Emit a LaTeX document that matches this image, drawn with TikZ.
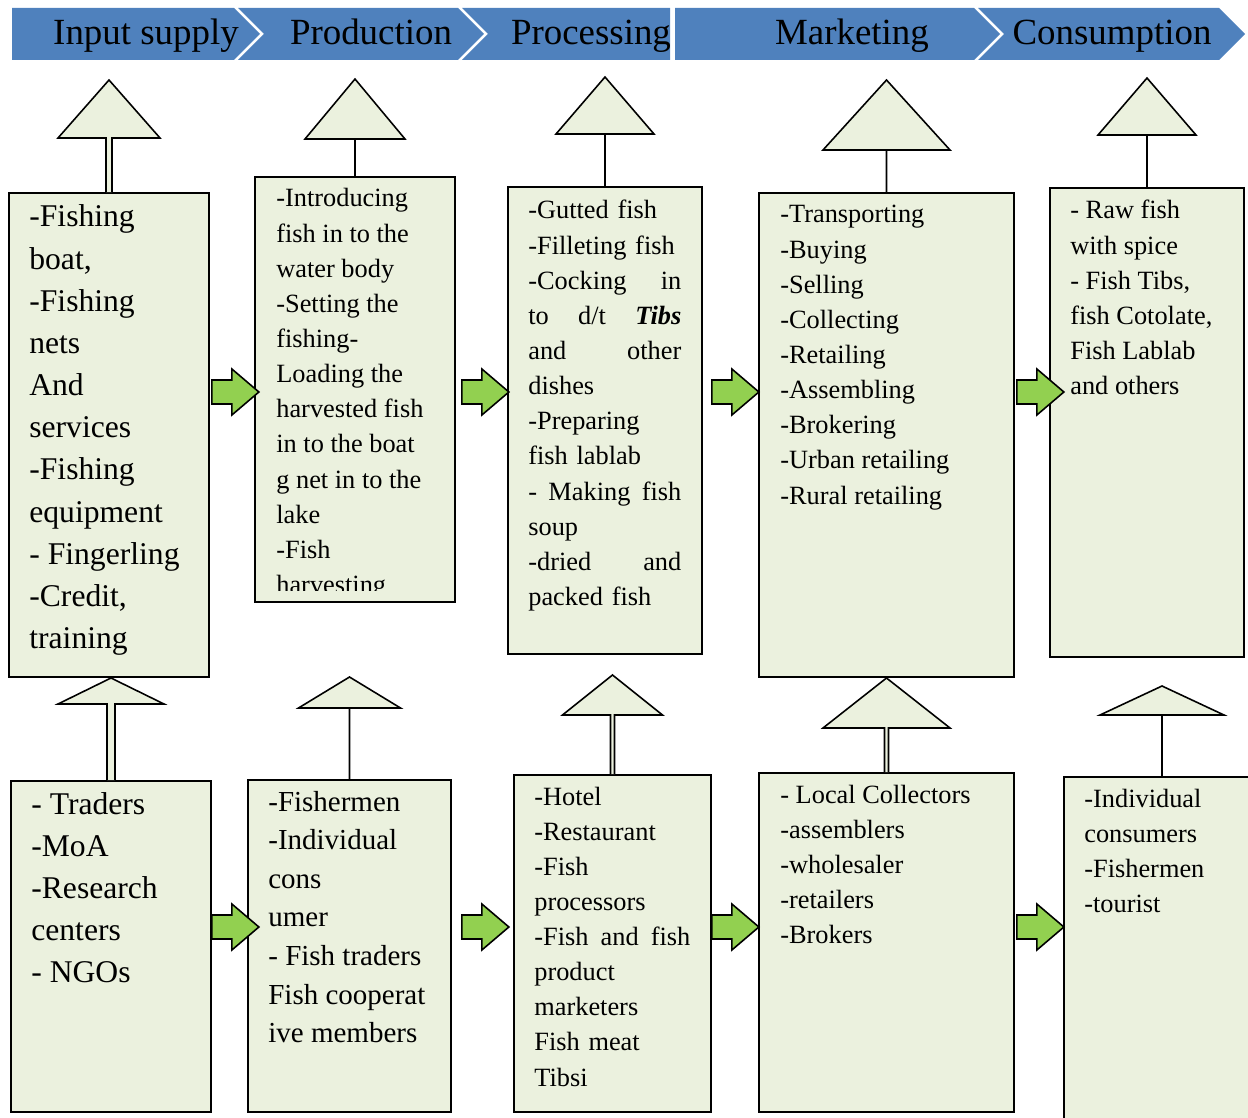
\documentclass[tikz,border=0pt]{standalone}
\usepackage{fontspec}
\setmainfont{Liberation Serif}
\usepackage{xcolor}
\usetikzlibrary{fit,calc}

\definecolor{bannerBlue}{HTML}{4F81BD}
\definecolor{boxFill}{HTML}{EBF1DE}
\definecolor{flowGreen}{HTML}{92D050}

\tikzset{
  box/.style = {draw, line width = 1pt, fill = boxFill, inner sep = 0pt},
  tri/.style = {draw, line width = 0.9pt, fill = boxFill, line join = miter},
  flow/.style = {draw, line width = 0.9pt, fill = flowGreen, line join = miter},
  band/.style = {fill = bannerBlue},
  head/.style = {anchor = base, inner sep = 0pt, font = \fontsize{21pt}{25pt}\selectfont},
  txt/.style = {anchor = base west, align = flush left, inner sep = 0pt, text width = 4.5cm},
  bigtxt/.style = {txt, font = \fontsize{18pt}{24pt}\selectfont},
  midtxt/.style = {txt, font = \fontsize{16.5pt}{22pt}\selectfont},
  smalltxt/.style = {txt, font = \fontsize{15pt}{20pt}\selectfont},
  justtxt/.style = {smalltxt, align = left}
}

% box anchor, base y, apex y, half width, stem half width
\newcommand{\pointer}[5]{%
  \draw[tri] ($(#1)+(-#5,0)$) -- ($(#1 |- 0,#2)+(-#5,0)$) -- ($(#1 |- 0,#2)+(-#4,0)$)
    -- (#1 |- 0,#3) -- ($(#1 |- 0,#2)+(#4,0)$) -- ($(#1 |- 0,#2)+(#5,0)$) -- ($(#1)+(#5,0)$);}

% source node, offset, row
\newcommand{\flowarrow}[3]{%
  \draw[flow] ($(#1.east |- #3)+(#2,0)$) ++(0,-12) -- ++(20,0) -- ++(0,-11) -- ++(27,23)
    -- ++(-27,23) -- ++(0,-11) -- ++(-20,0) -- cycle;}

\begin{document}
\begin{tikzpicture}[x = 0.02cm, y = -0.02cm]
    \useasboundingbox (0,0) rectangle (1248,1118);

    % banner
    \fill[band] (12,8) -- (234,8) -- (260,34) -- (234,60) -- (12,60) -- cycle;
    \fill[band] (238,8) -- (458,8) -- (484,34) -- (458,60) -- (238,60) -- (264,34) -- cycle;
    \fill[band] (462,8) -- (670,8) -- (670,60) -- (462,60) -- (488,34) -- cycle;
    \fill[band] (675,8) -- (974,8) -- (1000,34) -- (974,60) -- (675,60) -- cycle;
    \fill[band] (978,8) -- (1219,8) -- (1245,34) -- (1219,60) -- (978,60) -- (1004,34) -- cycle;

    \node[head](inputHead) at (146,45) {Input supply};
    \node[head](prodHead) at (371,45) {Production};
    \node[head](procHead) at (591,45) {Processing};
    \node[head](markHead) at (852,45) {Marketing};
    \node[head](consHead) at (1112,45) {Consumption};

    % boxes
    \node[box, fit = {(9,193) (209,677)}](inputTop) {};
    \node[box, fit = {(255,177) (455,602)}](prodTop) {};
    \node[box, fit = {(508,187) (702,654)}](procTop) {};
    \node[box, fit = {(759,193) (1014,677)}](markTop) {};
    \node[box, fit = {(1050,188) (1244,657)}](consTop) {};

    \node[box, fit = {(11,781) (211,1112)}](inputBot) {};
    \node[box, fit = {(248,780) (451,1112)}](prodBot) {};
    \node[box, fit = {(514,775) (711,1112)}](procBot) {};
    \node[box, fit = {(759,773) (1014,1112)}](markBot) {};
    \node[box, fit = {(1064,777) (1260,1125)}](consBot) {};

    % texts
    \node[bigtxt](inputTopText) at (29,227) {-Fishing\\boat,\\-Fishing\\nets\\And\\services\\-Fishing\\equipment\\- Fingerling\\-Credit,\\training};
    \begin{scope}
      \clip (255,177) rectangle (455,590);
      \node[smalltxt](prodTopText) at (276,207) {-Introducing\\fish in to the\\water body\\-Setting the\\fishing-\\Loading the\\harvested fish\\in to the boat\\g net in to the\\lake\\-Fish\\harvesting};
    \end{scope}
    \node[justtxt, text width = 3.06cm](procTopText) at (528,219) {-Gutted fish\\-Filleting fish\\-Cocking\hfill in\\to\hfill d/t\hfill \textbf{\textit{Tibs}}\\and\hfill other\\dishes\\-Preparing\\fish lablab\\-\hfill Making\hfill fish\\soup\\-dried\hfill and\\packed fish};
    \node[smalltxt](markTopText) at (780,223) {-Transporting\\-Buying\\-Selling\\-Collecting\\-Retailing\\-Assembling\\-Brokering\\-Urban retailing\\-Rural retailing};
    \node[smalltxt](consTopText) at (1070,219) {- Raw fish\\with spice\\- Fish Tibs,\\fish Cotolate,\\Fish Lablab\\and others};

    \node[bigtxt](inputBotText) at (31,814) {- Traders\\-MoA\\-Research\\centers\\- NGOs};
    \node[midtxt](prodBotText) at (268,811) {-Fishermen\\-Individual\\cons\\umer\\- Fish traders\\Fish cooperat\\ive members};
    \node[justtxt, text width = 3.12cm](procBotText) at (534,805) {-Hotel\\-Restaurant\\-Fish\\processors\\-Fish\hfill and\hfill fish\\product\\marketers\\Fish meat\\Tibsi};
    \node[smalltxt](markBotText) at (780,803) {- Local Collectors\\-assemblers\\-wholesaler\\-retailers\\-Brokers};
    \node[smalltxt](consBotText) at (1084,807) {-Individual\\consumers\\-Fishermen\\-tourist};

    % up pointers
    \pointer{inputTop.north}{138}{80}{51}{3}
    \pointer{prodTop.north}{139}{79}{50}{0}
    \pointer{procTop.north}{134}{77}{49}{0}
    \pointer{markTop.north}{150}{80}{63.5}{0}
    \pointer{consTop.north}{135}{78}{49}{0}

    \pointer{inputBot.north}{704}{678}{53}{4}
    \pointer{prodBot.north}{708}{677}{51}{0}
    \pointer{procBot.north}{715}{675}{50}{2}
    \pointer{markBot.north}{728}{678}{63.5}{2}
    \pointer{consBot.north}{715}{686}{62}{0}

    % flow arrows
    \coordinate (topRow) at (0,392);
    \coordinate (botRow) at (0,927);
    \flowarrow{inputTop}{2}{topRow}
    \flowarrow{prodTop}{6}{topRow}
    \flowarrow{procTop}{9}{topRow}
    \flowarrow{markTop}{2}{topRow}
    \flowarrow{inputBot}{0}{botRow}
    \flowarrow{prodBot}{10}{botRow}
    \flowarrow{procBot}{0}{botRow}
    \flowarrow{markBot}{2}{botRow}
\end{tikzpicture}
\end{document}
